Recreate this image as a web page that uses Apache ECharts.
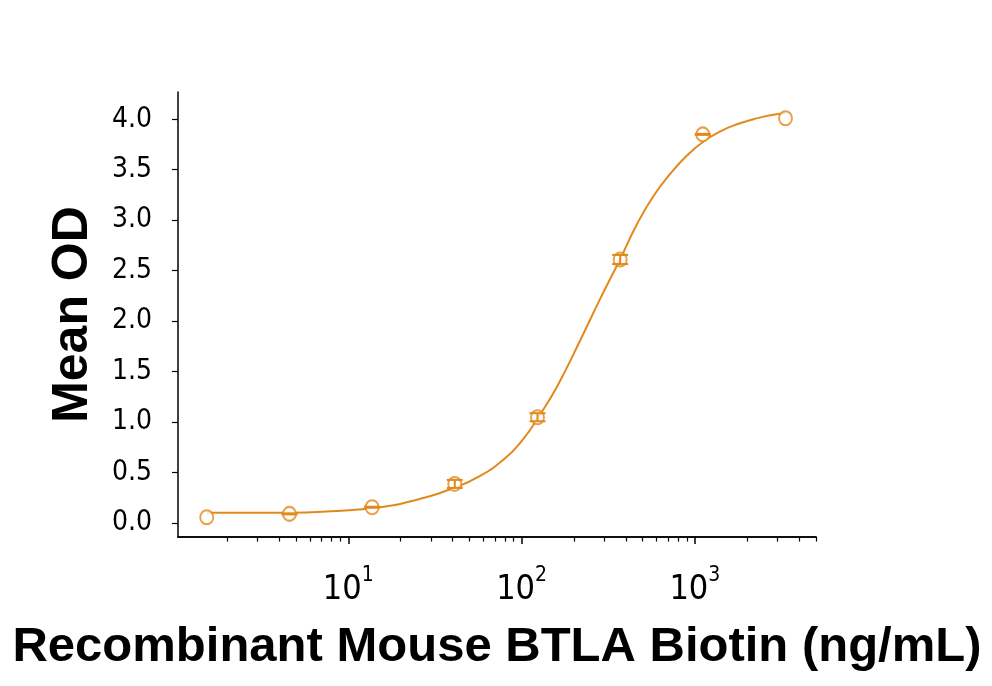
<!DOCTYPE html>
<html>
<head>
<meta charset="utf-8">
<script src="https://cdn.jsdelivr.net/npm/echarts@6/dist/echarts.min.js"></script>
<style>
  html, body { margin: 0; padding: 0; background: #fff; }
  #chart { width: 992px; height: 686px; }
</style>
</head>
<body>
<div id="chart"></div>
<script>
// measured points (3-fold dilution series)
const conc = [1.524, 4.572, 13.72, 41.15, 123.5, 370.4, 1111, 3333];
const meanOD = [0.056, 0.089, 0.155, 0.386, 1.047, 2.61, 3.85, 4.01];
const odErr = [0, 0.005, 0.005, 0.04, 0.04, 0.045, 0.005, 0];

// fitted curve
const fitConc = [1.524, 2.7, 4.6, 7.9, 15.2, 23.7, 41.3, 57.6, 80.3, 100, 122, 160, 218, 284, 367,
  463, 577, 721, 900, 1122, 1402, 1750, 2184, 2728, 3333];
const fitOD = [0.10, 0.10, 0.10, 0.115, 0.155, 0.22, 0.35, 0.465, 0.64, 0.81, 1.02, 1.35, 1.81, 2.22, 2.60,
  2.96, 3.24, 3.46, 3.64, 3.78, 3.88, 3.95, 4.00, 4.04, 4.06];

const majorTicks = [10, 100, 1000];
const minorTicks = [2, 3, 4, 5, 6, 7, 8, 9, 20, 30, 40, 50, 60, 70, 80, 90,
  200, 300, 400, 500, 600, 700, 800, 900, 2000, 3000, 4000, 5000];
const yTicks = [0, 0.5, 1.0, 1.5, 2.0, 2.5, 3.0, 3.5, 4.0];

const orange = '#E2891B';
const tickFont = "'Liberation Sans Narrow', 'DejaVu Sans Condensed', 'Roboto', sans-serif";
const titleFont = "'Liberation Sans', Arial, sans-serif";

const chart = echarts.init(document.getElementById('chart'));

const xBase = {
  type: 'log',
  logBase: 10,
  min: 1.04,
  max: 5000,
  position: 'bottom',
  splitLine: { show: false },
  axisLine: { onZero: false, lineStyle: { color: '#000', width: 1.5 } }
};

const option = {
  animation: false,
  backgroundColor: '#fff',
  grid: { left: 178, right: 176, top: 92, bottom: 149 },
  xAxis: [
    Object.assign({}, xBase, {
      name: 'Recombinant Mouse BTLA Biotin (ng/mL)',
      nameLocation: 'middle',
      nameGap: 86,
      nameTextStyle: { fontFamily: titleFont, fontWeight: 'bold', fontSize: 49, color: '#000' },
      axisTick: { show: true, length: 7, customValues: majorTicks, lineStyle: { color: '#000', width: 1.5 } },
      axisLabel: {
        customValues: majorTicks,
        margin: 28,
        formatter: function (v) {
          return '{b|10}{s|' + Math.round(Math.log10(v)) + '}';
        },
        rich: {
          b: { fontFamily: tickFont, fontSize: 34, color: '#000', lineHeight: 42, verticalAlign: 'bottom' },
          s: { fontFamily: tickFont, fontSize: 21, color: '#000', verticalAlign: 'top', lineHeight: 6 }
        }
      }
    }),
    Object.assign({}, xBase, {
      axisTick: { show: true, length: 4.5, customValues: minorTicks, lineStyle: { color: '#000', width: 1.2 } },
      axisLabel: { show: false }
    })
  ],
  yAxis: {
    type: 'value',
    min: -0.14,
    max: 4.27,
    name: 'Mean OD',
    nameLocation: 'middle',
    nameGap: 80,
    nameTextStyle: { fontFamily: titleFont, fontWeight: 'bold', fontSize: 50, color: '#000' },
    splitLine: { show: false },
    axisLine: { show: true, onZero: false, lineStyle: { color: '#000', width: 1.5 } },
    axisTick: { show: true, length: 6, customValues: yTicks, lineStyle: { color: '#000', width: 1.2 } },
    axisLabel: {
      customValues: yTicks,
      margin: 26,
      fontFamily: tickFont,
      fontSize: 28,
      color: '#000',
      formatter: function (v) { return v.toFixed(1); }
    }
  },
  series: [
    {
      type: 'line',
      name: 'fit',
      data: fitConc.map((c, i) => [c, fitOD[i]]),
      smooth: 0.5,
      showSymbol: false,
      lineStyle: { color: orange, width: 2 },
      z: 2
    },
    {
      type: 'scatter',
      name: 'Mean OD',
      data: conc.map((c, i) => [c, meanOD[i]]),
      symbol: 'circle',
      symbolSize: [13, 14],
      itemStyle: { color: '#fff', borderColor: orange, borderWidth: 2 },
      z: 3
    },
    {
      type: 'custom',
      name: 'error',
      data: conc.map((c, i) => [c, meanOD[i] - odErr[i], meanOD[i] + odErr[i], odErr[i]]),
      renderItem: function (params, api) {
        if (api.value(3) <= 0) return null;
        const lo = api.coord([api.value(0), api.value(1)]);
        const hi = api.coord([api.value(0), api.value(2)]);
        const w = 8;
        const st = { stroke: orange, lineWidth: 2 };
        return {
          type: 'group',
          children: [
            { type: 'line', shape: { x1: lo[0], y1: lo[1], x2: hi[0], y2: hi[1] }, style: st },
            { type: 'line', shape: { x1: lo[0] - w, y1: lo[1], x2: lo[0] + w, y2: lo[1] }, style: st },
            { type: 'line', shape: { x1: hi[0] - w, y1: hi[1], x2: hi[0] + w, y2: hi[1] }, style: st }
          ]
        };
      },
      z: 4
    }
  ]
};

chart.setOption(option);
</script>
</body>
</html>
